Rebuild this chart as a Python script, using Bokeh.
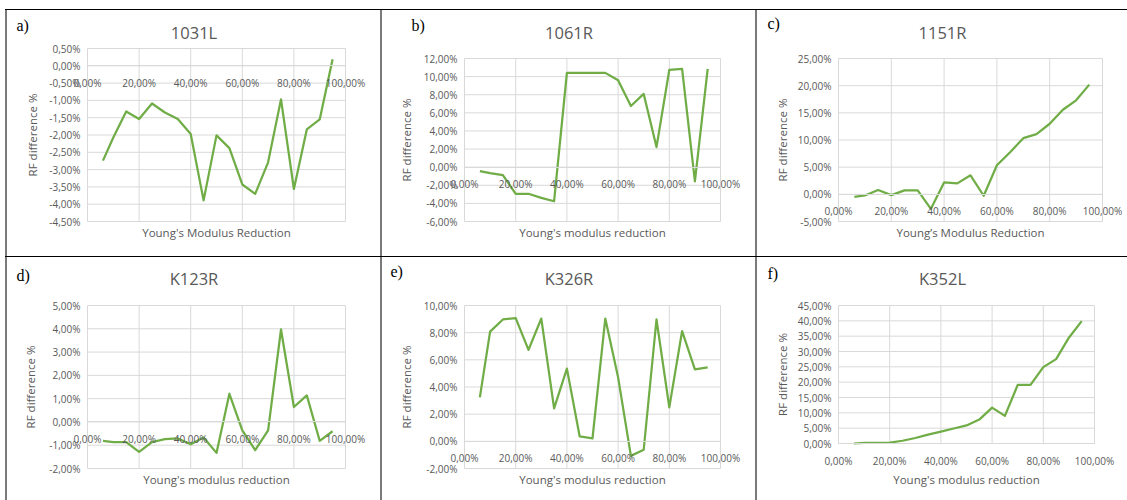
from bokeh.plotting import figure
from bokeh.layouts import row, column
from bokeh.models import Range1d, FixedTicker, Label, Div, Spacer, LinearAxis, CustomJSTickFormatter
from bokeh.embed import file_html
from bokeh.resources import INLINE

# ---- data -----------------------------------------------------------------
reduction = [6, 10, 15, 20, 25, 30, 35, 40, 45, 50, 55, 60, 65, 70, 75, 80, 85, 90, 95]

rf_1031L = [-2.74, -2.07, -1.32, -1.54, -1.09, -1.35, -1.54, -1.97, -3.89, -2.01,
            -2.38, -3.43, -3.70, -2.79, -0.97, -3.56, -1.84, -1.55, 0.19]
rf_1061R = [-0.44, -0.66, -0.88, -2.94, -2.94, -3.39, -3.76, 10.41, 10.41, 10.41,
            10.41, 9.60, 6.76, 8.09, 2.22, 10.75, 10.86, -1.58, 10.86]
rf_1151R = [-0.45, -0.20, 0.79, -0.14, 0.72, 0.72, -2.67, 2.20, 2.02, 3.50,
            -0.26, 5.35, 7.75, 10.34, 11.08, 12.99, 15.57, 17.30, 20.19]
rf_K123R = [-0.81, -0.87, -0.87, -1.29, -0.87, -0.74, -0.71, -0.96, -0.67, -1.33,
            1.21, -0.36, -1.21, -0.36, 3.97, 0.64, 1.14, -0.81, -0.40]
rf_K326R = [3.24, 8.08, 8.97, 9.07, 6.73, 9.04, 2.43, 5.35, 0.36, 0.21,
            9.04, 4.71, -1.07, -0.62, 8.97, 2.50, 8.11, 5.30, 5.45]
rf_K352L = [0.0, 0.2, 0.2, 0.3, 0.9, 1.8, 2.9, 3.9, 4.9, 5.9,
            7.8, 11.7, 9.0, 19.1, 19.1, 24.9, 27.5, 34.5, 39.9]

x_ticks = [0, 20, 40, 60, 80, 100]
y_ticks_1031L = [-4.5, -4.0, -3.5, -3.0, -2.5, -2.0, -1.5, -1.0, -0.5, 0.0, 0.5]
y_ticks_1061R = [-6, -4, -2, 0, 2, 4, 6, 8, 10, 12]
y_ticks_1151R = [-5, 0, 5, 10, 15, 20, 25]
y_ticks_K123R = [-2, -1, 0, 1, 2, 3, 4, 5]
y_ticks_K326R = [-2, 0, 2, 4, 6, 8, 10]
y_ticks_K352L = [0, 5, 10, 15, 20, 25, 30, 35, 40, 45]

tags = ["a)", "b)", "c)", "d)", "e)", "f)"]
names = ["1031L", "1061R", "1151R", "K123R", "K326R", "K352L"]
x_titles = ["Young's Modulus Reduction", "Young's modulus reduction",
            "Young\u2019s Modulus Reduction", "Young's modulus reduction",
            "Young's modulus reduction", "Young's modulus reduction"]
y_title = "RF difference %"
series = [rf_1031L, rf_1061R, rf_1151R, rf_K123R, rf_K326R, rf_K352L]
y_ticks = [y_ticks_1031L, y_ticks_1061R, y_ticks_1151R,
           y_ticks_K123R, y_ticks_K326R, y_ticks_K352L]

# ---- page geometry (pixels) -------------------------------------------------
# cell extents of each chart inside the bordered table (left, right, top, bottom)
cells = [(7, 380, 10, 256), (382, 755, 10, 256), (757, 1127, 10, 256),
         (7, 380, 257, 500), (382, 755, 257, 500), (757, 1127, 257, 500)]
# plotting area of each chart
areas = [(87, 345, 48, 221), (464, 720, 58, 221), (838, 1102, 58, 221),
         (87, 345, 305, 468), (464, 720, 305, 468), (838, 1094, 305, 443)]
# (left, middle) of the panel letter
tag_pos = [(16, 25), (411, 25), (767, 23), (16, 275), (390, 271), (767, 273)]
title_y = [32, 32, 32, 278, 278, 278]
xlabel_y = [232, 232, 232, 479, 479, 479]
ylabel_x = [32, 406, 782, 30, 406, 782]

GREEN = "#70ad47"
TEXT = "#595959"
GRID = "#d9d9d9"
FONT = "Open Sans"

pct = CustomJSTickFormatter(code="""
    const v = Math.abs(tick) < 1e-9 ? 0 : tick;
    return v.toFixed(2).replace('.', ',') + '%';
""")


def chart(i):
    cl, cr, ct, cb = cells[i]
    al, ar, at, ab = areas[i]
    yt = y_ticks[i]
    x0, x1 = x_ticks[0], x_ticks[-1]
    y0, y1 = yt[0], yt[-1]

    # the frame covers the whole cell; ranges are padded so that the
    # plotting area lands where the axes cross
    kx = (x1 - x0) / (ar - al)
    ky = (y1 - y0) / (ab - at)
    xs, xe = x0 - (al - cl) * kx, x1 + (cr - ar) * kx
    ys, ye = y0 - (cb - ab) * ky, y1 + (at - ct) * ky

    def at_px(px, py):
        return xs + (px - cl) * kx, ys + (cb - py) * ky

    p = figure(width=cr - cl, height=cb - ct, min_border=0,
               x_range=Range1d(xs, xe), y_range=Range1d(ys, ye),
               x_axis_location=None, y_axis_location=None,
               output_backend="svg", toolbar_location=None, title=None)
    p.outline_line_color = None
    p.background_fill_color = "white"
    p.border_fill_color = "white"
    p.grid.grid_line_color = None

    # gridlines of the plotting area
    p.segment(x0=x_ticks, y0=[y0] * len(x_ticks), x1=x_ticks, y1=[y1] * len(x_ticks),
              line_color=GRID, line_width=1)
    p.segment(x0=[x0] * len(yt), y0=yt, x1=[x1] * len(yt), y1=yt,
              line_color=GRID, line_width=1)

    p.line(reduction, series[i], line_color=GREEN, line_width=2.25, line_join="round")

    # horizontal axis crosses at zero
    xa = LinearAxis(fixed_location=0, bounds=(x0, x1), ticker=FixedTicker(ticks=x_ticks),
                    formatter=pct)
    xa.axis_line_color = GRID
    xa.major_tick_line_color = None
    xa.minor_tick_line_color = None
    xa.major_label_standoff = 4
    xa.major_label_text_color = TEXT
    xa.major_label_text_font = FONT
    xa.major_label_text_font_size = "10px"
    p.add_layout(xa, "below")

    ya = LinearAxis(fixed_location=x0, bounds=(y0, y1), ticker=FixedTicker(ticks=yt),
                    formatter=pct)
    ya.axis_line_color = None
    ya.major_tick_line_color = None
    ya.minor_tick_line_color = None
    ya.major_label_standoff = 1
    ya.major_label_text_color = TEXT
    ya.major_label_text_font = FONT
    ya.major_label_text_font_size = "10px"
    p.add_layout(ya, "left")

    def put(px, py, text, **kw):
        x, y = at_px(px, py)
        p.add_layout(Label(x=x, y=y, text=text, **kw))

    put(tag_pos[i][0], tag_pos[i][1], tags[i], text_font="Liberation Serif",
        text_font_size="16px", text_color="black", text_baseline="middle", text_align="left")
    put((cl + cr) / 2, title_y[i], names[i], text_font=FONT, text_font_size="16.5px",
        text_color=TEXT, text_baseline="middle", text_align="center")
    put((al + ar) / 2, xlabel_y[i], x_titles[i], text_font=FONT, text_font_size="11.5px",
        text_color=TEXT, text_baseline="middle", text_align="center")
    put(ylabel_x[i], (at + ab) / 2, y_title, text_font=FONT, text_font_size="11.5px",
        text_color=TEXT, text_baseline="middle", text_align="center", angle=1.5707963)
    return p


def vline(h):
    return Div(text="", width=2, height=h, margin=0,
               styles={"background-color": "#7a7a7a", "overflow": "hidden"})


def hline():
    return Div(text="", width=1122, height=1, margin=0,
               styles={"background-color": "#000000", "overflow": "hidden"})


charts = [chart(i) for i in range(6)]
table = column(
    Spacer(width=1122, height=9, margin=0),
    hline(),
    row(vline(246), charts[0], vline(246), charts[1], vline(246), charts[2]),
    hline(),
    row(vline(243), charts[3], vline(243), charts[4], vline(243), charts[5]),
)
page = row(Spacer(width=5, height=500, margin=0), table)

open("out.html", "w").write(file_html(page, INLINE))
